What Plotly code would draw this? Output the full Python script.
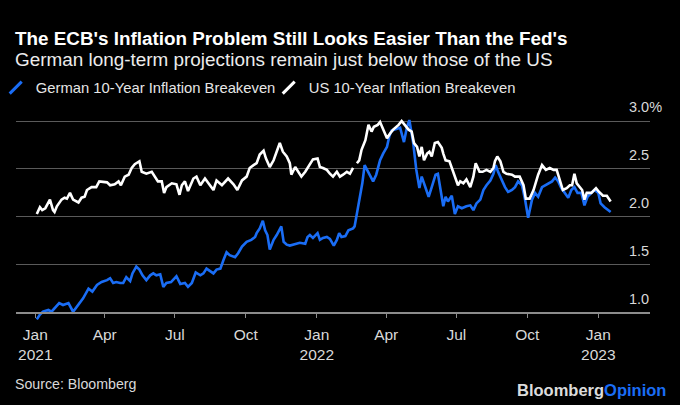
import plotly.graph_objects as go

# US 10-year breakeven (white line); None marks the short gap in Feb 2022
us_dates = [
    "2021-01-03", "2021-01-07", "2021-01-10", "2021-01-14", "2021-01-20", "2021-01-24",
    "2021-01-26", "2021-01-29", "2021-02-04", "2021-02-08", "2021-02-11", "2021-02-15",
    "2021-02-19", "2021-02-24", "2021-02-26", "2021-03-02", "2021-03-06", "2021-03-09",
    "2021-03-15", "2021-03-21", "2021-03-25", "2021-04-04", "2021-04-08", "2021-04-14",
    "2021-04-19", "2021-04-22", "2021-04-27", "2021-05-02", "2021-05-06", "2021-05-10",
    "2021-05-16", "2021-05-19", "2021-05-25", "2021-06-01", "2021-06-05", "2021-06-09",
    "2021-06-14", "2021-06-17", "2021-06-20", "2021-06-27", "2021-07-03", "2021-07-07",
    "2021-07-10", "2021-07-14", "2021-07-18", "2021-07-25", "2021-07-29", "2021-08-03",
    "2021-08-09", "2021-08-16", "2021-08-20", "2021-08-24", "2021-08-31", "2021-09-08",
    "2021-09-15", "2021-09-20", "2021-09-26", "2021-10-02", "2021-10-06", "2021-10-11",
    "2021-10-15", "2021-10-19", "2021-10-24", "2021-10-27", "2021-11-01", "2021-11-06",
    "2021-11-11", "2021-11-14", "2021-11-18", "2021-11-23", "2021-11-27", "2021-11-29",
    "2021-12-04", "2021-12-08", "2021-12-12", "2021-12-17", "2021-12-21", "2021-12-27",
    "2022-01-02", "2022-01-05", "2022-01-09", "2022-01-14", "2022-01-18", "2022-01-22",
    "2022-01-27", "2022-01-31", "2022-02-04", "2022-02-09", "2022-02-13", "2022-02-17",
    "2022-02-19", "2022-02-22", "2022-02-25", "2022-02-28", "2022-03-05", "2022-03-09",
    "2022-03-13", "2022-03-16", "2022-03-21", "2022-03-24", "2022-03-28", "2022-04-02",
    "2022-04-06", "2022-04-10", "2022-04-17", "2022-04-21", "2022-04-25", "2022-04-30",
    "2022-05-04", "2022-05-07", "2022-05-11", "2022-05-14", "2022-05-17", "2022-05-20",
    "2022-05-24", "2022-05-27", "2022-05-30", "2022-06-03", "2022-06-07", "2022-06-12",
    "2022-06-14", "2022-06-17", "2022-06-22", "2022-06-25", "2022-06-29", "2022-07-03",
    "2022-07-06", "2022-07-10", "2022-07-14", "2022-07-19", "2022-07-23", "2022-07-26",
    "2022-07-31", "2022-08-04", "2022-08-09", "2022-08-14", "2022-08-18", "2022-08-20",
    "2022-08-23", "2022-08-27", "2022-08-31", "2022-09-04", "2022-09-11", "2022-09-15",
    "2022-09-21", "2022-09-26", "2022-09-29", "2022-10-04", "2022-10-09", "2022-10-15",
    "2022-10-20", "2022-10-25", "2022-10-30", "2022-11-04", "2022-11-08", "2022-11-12",
    "2022-11-16", "2022-11-21", "2022-11-25", "2022-11-28", "2022-12-01", "2022-12-04",
    "2022-12-08", "2022-12-11", "2022-12-14", "2022-12-17", "2022-12-23", "2022-12-29",
    "2023-01-02", "2023-01-07", "2023-01-12", "2023-01-17",
]
us_values = [
    2.03, 2.10, 2.07, 2.09, 2.18, 2.07,
    2.05, 2.11, 2.18, 2.20, 2.19, 2.25,
    2.18, 2.16, 2.15, 2.20, 2.21, 2.28,
    2.31, 2.31, 2.37, 2.36, 2.33, 2.34,
    2.37, 2.33, 2.42, 2.44, 2.51, 2.55,
    2.58, 2.47, 2.45, 2.47, 2.42, 2.37,
    2.37, 2.25, 2.31, 2.35, 2.34, 2.23,
    2.33, 2.37, 2.27, 2.40, 2.42, 2.33,
    2.40, 2.33, 2.28, 2.38, 2.33, 2.40,
    2.34, 2.28, 2.38, 2.42, 2.51, 2.54,
    2.56, 2.65, 2.69, 2.61, 2.52, 2.59,
    2.70, 2.77, 2.68, 2.63, 2.56, 2.44,
    2.52, 2.47, 2.42, 2.47, 2.52, 2.60,
    2.61, 2.52, 2.51, 2.49, 2.45, 2.42,
    2.47, 2.42, 2.44, 2.47, 2.45, 2.51,
    None, 2.56, 2.59, 2.70, 2.80, 2.96,
    2.89, 2.94, 2.96, 2.99, 2.91, 2.82,
    2.87, 2.91, 2.96, 3.00, 2.96, 2.91,
    2.89, 2.77, 2.73, 2.63, 2.73, 2.59,
    2.66, 2.68, 2.63, 2.77, 2.78, 2.72,
    2.66, 2.59, 2.58, 2.51, 2.40, 2.33,
    2.37, 2.35, 2.39, 2.31, 2.42, 2.56,
    2.47, 2.47, 2.49, 2.47, 2.51, 2.58,
    2.63, 2.58, 2.47, 2.45, 2.44, 2.42,
    2.42, 2.33, 2.19, 2.19, 2.28, 2.44,
    2.54, 2.49, 2.51, 2.49, 2.49, 2.38,
    2.28, 2.30, 2.33, 2.33, 2.45, 2.35,
    2.31, 2.28, 2.18, 2.25, 2.25, 2.30,
    2.26, 2.22, 2.22, 2.16,
]

# German 10-year breakeven (blue line)
de_dates = [
    "2021-01-03", "2021-01-07", "2021-01-11", "2021-01-18", "2021-01-22", "2021-01-27",
    "2021-02-01", "2021-02-06", "2021-02-13", "2021-02-19", "2021-02-26", "2021-03-04",
    "2021-03-11", "2021-03-16", "2021-03-22", "2021-03-28", "2021-04-04", "2021-04-08",
    "2021-04-12", "2021-04-16", "2021-04-21", "2021-04-25", "2021-04-29", "2021-05-04",
    "2021-05-07", "2021-05-12", "2021-05-16", "2021-05-20", "2021-05-25", "2021-05-30",
    "2021-06-03", "2021-06-07", "2021-06-12", "2021-06-16", "2021-06-20", "2021-06-26",
    "2021-07-03", "2021-07-08", "2021-07-14", "2021-07-18", "2021-07-23", "2021-07-28",
    "2021-08-03", "2021-08-07", "2021-08-11", "2021-08-16", "2021-08-20", "2021-08-24",
    "2021-08-29", "2021-09-02", "2021-09-06", "2021-09-10", "2021-09-17", "2021-09-21",
    "2021-09-26", "2021-10-02", "2021-10-08", "2021-10-13", "2021-10-15", "2021-10-19",
    "2021-10-23", "2021-10-26", "2021-10-29", "2021-11-01", "2021-11-06", "2021-11-10",
    "2021-11-14", "2021-11-16", "2021-11-19", "2021-11-23", "2021-11-27", "2021-12-04",
    "2021-12-10", "2021-12-17", "2021-12-20", "2021-12-23", "2021-12-27", "2022-01-02",
    "2022-01-05", "2022-01-09", "2022-01-14", "2022-01-18", "2022-01-23", "2022-01-27",
    "2022-01-30", "2022-02-02", "2022-02-07", "2022-02-11", "2022-02-17", "2022-02-19",
    "2022-02-22", "2022-02-25", "2022-03-01", "2022-03-04", "2022-03-07", "2022-03-11",
    "2022-03-15", "2022-03-19", "2022-03-24", "2022-03-28", "2022-04-02", "2022-04-05",
    "2022-04-08", "2022-04-15", "2022-04-19", "2022-04-24", "2022-04-28", "2022-05-01",
    "2022-05-03", "2022-05-06", "2022-05-10", "2022-05-14", "2022-05-17", "2022-05-21",
    "2022-05-26", "2022-05-30", "2022-06-04", "2022-06-07", "2022-06-10", "2022-06-14",
    "2022-06-17", "2022-06-20", "2022-06-25", "2022-06-29", "2022-07-03", "2022-07-08",
    "2022-07-14", "2022-07-19", "2022-07-23", "2022-07-27", "2022-08-01", "2022-08-05",
    "2022-08-09", "2022-08-14", "2022-08-18", "2022-08-21", "2022-08-24", "2022-08-28",
    "2022-09-02", "2022-09-06", "2022-09-11", "2022-09-15", "2022-09-19", "2022-09-24",
    "2022-09-28", "2022-10-02", "2022-10-07", "2022-10-11", "2022-10-15", "2022-10-20",
    "2022-10-24", "2022-10-28", "2022-11-02", "2022-11-06", "2022-11-10", "2022-11-14",
    "2022-11-19", "2022-11-23", "2022-11-27", "2022-12-01", "2022-12-05", "2022-12-10",
    "2022-12-14", "2022-12-18", "2022-12-23", "2022-12-27", "2023-01-01", "2023-01-04",
    "2023-01-09", "2023-01-14", "2023-01-17",
]
de_values = [
    0.93, 0.98, 1.01, 1.03, 1.01, 1.05,
    1.10, 1.08, 1.10, 1.01, 1.08, 1.15,
    1.25, 1.22, 1.29, 1.32, 1.34, 1.36,
    1.31, 1.32, 1.31, 1.31, 1.37, 1.33,
    1.41, 1.48, 1.45, 1.39, 1.34, 1.39,
    1.41, 1.39, 1.40, 1.27, 1.31, 1.32,
    1.38, 1.30, 1.31, 1.27, 1.31, 1.42,
    1.39, 1.41, 1.46, 1.43, 1.41, 1.45,
    1.46, 1.55, 1.63, 1.60, 1.58, 1.62,
    1.69, 1.74, 1.76, 1.79, 1.83, 1.88,
    1.96, 1.86, 1.81, 1.66, 1.76, 1.81,
    1.88, 1.90, 1.74, 1.71, 1.70, 1.72,
    1.73, 1.72, 1.79, 1.81, 1.78, 1.83,
    1.76, 1.78, 1.79, 1.77, 1.70, 1.76,
    1.83, 1.79, 1.80, 1.86, 1.88, 1.90,
    2.04, 2.18, 2.35, 2.54, 2.49, 2.42,
    2.37, 2.44, 2.59, 2.66, 2.73, 2.84,
    2.90, 2.92, 2.93, 2.78, 2.94, 3.01,
    2.91, 2.77, 2.49, 2.30, 2.42, 2.33,
    2.21, 2.31, 2.44, 2.45, 2.31, 2.11,
    2.21, 2.16, 2.22, 2.03, 2.11, 2.09,
    2.11, 2.12, 2.07, 2.14, 2.18, 2.28,
    2.33, 2.38, 2.45, 2.54, 2.47, 2.40,
    2.31, 2.26, 2.28, 2.31, 2.37, 2.33,
    2.18, 1.99, 2.18, 2.25, 2.21, 2.31,
    2.33, 2.35, 2.37, 2.41, 2.37, 2.30,
    2.25, 2.20, 2.28, 2.31, 2.25, 2.25,
    2.12, 2.21, 2.25, 2.28, 2.25, 2.14,
    2.10, 2.07, 2.05,
]

x_tick_dates = [
    "2021-01-01", "2021-04-01", "2021-07-01", "2021-10-01", "2022-01-01",
    "2022-04-01", "2022-07-01", "2022-10-01", "2023-01-01",
]
x_tick_labels = [
    "Jan<br>2021", "Apr", "Jul", "Oct", "Jan<br>2022",
    "Apr", "Jul", "Oct", "Jan<br>2023",
]
y_tick_values = [1.0, 1.5, 2.0, 2.5, 3.0]
y_tick_labels = ["1.0", "1.5", "2.0", "2.5", "3.0%"]

blue = "#1a6df5"
font = "Liberation Sans"
y_bottom, y_top = 0.882, 3.115
plot_w, plot_h = 634, 214  # plot area in px, used to place the text blocks

fig = go.Figure()

# the lines themselves
fig.add_trace(go.Scatter(x=de_dates, y=de_values, mode="lines",
                         line=dict(color=blue, width=2.6), showlegend=False))
fig.add_trace(go.Scatter(x=us_dates, y=us_values, mode="lines",
                         line=dict(color="white", width=2.6), showlegend=False))

# legend entries drawn as slashes, like the original
for name, color in [("German 10-Year Inflation Breakeven", blue),
                    ("US 10-Year Inflation Breakeven", "white")]:
    fig.add_trace(go.Scatter(
        x=[None], y=[None], mode="markers", name=name,
        marker=dict(symbol="line-ne", size=12, line=dict(color=color, width=3)),
    ))

fig.update_layout(
    width=680, height=405,
    paper_bgcolor="black", plot_bgcolor="black",
    margin=dict(l=16, r=30, t=110, b=81, autoexpand=False),
    font=dict(family=font, color="#d9d9d9", size=14),
    showlegend=True,
    legend=dict(
        orientation="h", x=-0.032, xanchor="left", y=1.103, yanchor="middle",
        font=dict(size=14.8, color="#e6e6e6"), bgcolor="rgba(0,0,0,0)",
        itemclick=False, tracegroupgap=0, entrywidth=228, entrywidthmode="pixels",
    ),
)

fig.update_xaxes(
    type="date", automargin=False,
    range=["2020-12-07", "2023-03-09"],
    tickvals=x_tick_dates, ticktext=x_tick_labels,
    showgrid=False, zeroline=False,
    showline=True, linecolor="#8c8c8c", linewidth=1.5,
    ticks="outside", ticklen=5, tickcolor="#8c8c8c", tickwidth=1,
    anchor="free", position=(1.0 - y_bottom) / (y_top - y_bottom),
    ticklabelstandoff=3,
    tickfont=dict(size=15.5, color="#d9d9d9"),
)
# labels sit just above their gridlines, left-aligned so the "%" hangs past the grid
fig.update_yaxes(
    range=[y_bottom, y_top], automargin=False,
    side="right", ticklabelposition="outside", ticklabeloverflow="allow",
    tickvals=y_tick_values, ticktext=y_tick_labels,
    showgrid=True, gridcolor="#5a5a5a", gridwidth=1.3,
    zeroline=False, showline=False, ticks="",
    ticklabelshift=-14, ticklabelstandoff=-22,
    tickfont=dict(size=14.5, color="#d9d9d9"),
)

fig.add_annotation(
    text="<b>The ECB's Inflation Problem Still Looks Easier Than the Fed's</b>",
    xref="paper", yref="paper", x=-3 / plot_w, y=1.336, xanchor="left", yanchor="middle",
    showarrow=False, font=dict(size=18.85, color="white"),
)
fig.add_annotation(
    text="German long-term projections remain just below those of the US",
    xref="paper", yref="paper", x=-3 / plot_w, y=1.236, xanchor="left", yanchor="middle",
    showarrow=False, font=dict(size=18.9, color="#ececec"),
)
fig.add_annotation(
    text="Source: Bloomberg",
    xref="paper", yref="paper", x=-3 / plot_w, y=-0.28, xanchor="left", yanchor="middle",
    showarrow=False, font=dict(size=14.2, color="#d9d9d9"),
)
fig.add_annotation(
    text=f"<b><span style='color:#dcdcdc'>Bloomberg</span><span style='color:{blue}'>Opinion</span></b>",
    xref="paper", yref="paper", x=(668 - 16) / plot_w, y=-0.308, xanchor="right", yanchor="middle",
    showarrow=False, font=dict(size=16.5),
)

# drop the browser's default 8px page margin so the chart sits at the window corner
fig.write_html("out.html", config={"displayModeBar": False},
               post_script="document.body.style.margin='0';")
